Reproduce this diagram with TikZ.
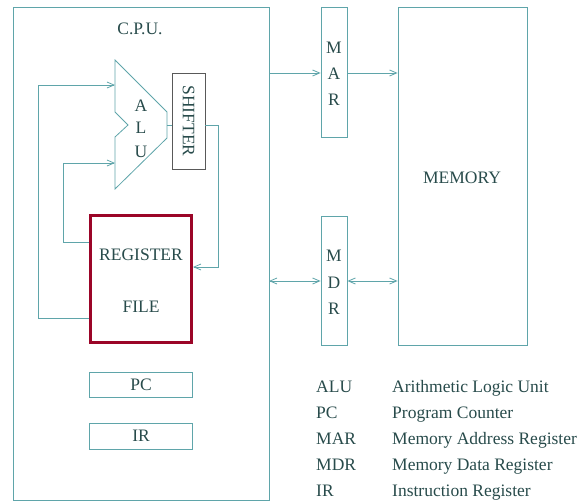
\documentclass[tikz,border=0pt]{standalone}
\usepackage{fontspec}
\setmainfont{Liberation Serif}
\usetikzlibrary{arrows.meta}
\definecolor{ln}{RGB}{95,165,170}
\definecolor{tx}{RGB}{40,75,75}
\definecolor{rf}{RGB}{155,5,40}
\begin{document}
\begin{tikzpicture}[x=1pt,y=-1pt,
  wire/.style={draw=ln,line width=0.8pt},
  arr/.style={wire,-{Straight Barb[length=7pt,width=6pt]}},
  darr/.style={wire,{Straight Barb[length=7pt,width=6pt]}-{Straight Barb[length=7pt,width=6pt]}},
  lbl/.style={text=tx,font=\fontsize{17.5}{20}\selectfont,inner sep=0pt},
  box/.style={draw=ln,line width=0.8pt}]
\useasboundingbox (0,0) rectangle (584,501);
% CPU
\draw[box] (13,7) rectangle (269,500);
\node[lbl] (cpu) at (140,29) {C.P.U.};
% ALU
\draw[box] (115,60) -- (167,112) -- (167,138) -- (115,189) -- (115,137) -- (128,125) -- (115,112) -- cycle;
\coordinate (aluin1) at (115,85);
\coordinate (aluin2) at (115,163);
\coordinate (aluout) at (167,125);
\node[lbl] (alua) at (141,106) {A};
\node[lbl] (alul) at (141,128) {L};
\node[lbl] (aluu) at (141,152) {U};
% shifter
\node[draw=gray!70!black,line width=0.7pt,minimum width=33pt,minimum height=96pt,inner sep=0pt] (sh) at (188.5,121) {};
\node[lbl,rotate=-90] (shtxt) at (188.5,121) {SHIFTER};
% register file
\node[draw=rf,line width=3pt,minimum width=101pt,minimum height=127pt,inner sep=0pt] (rf) at (141,279) {};
\node[lbl] (reg) at (141,255) {REGISTER};
\node[lbl] (file) at (141,307) {FILE};
% PC IR
\node[box,minimum width=103pt,minimum height=25pt,inner sep=0pt,lbl] (pc) at (141,384.5) {PC};
\node[box,minimum width=103pt,minimum height=26pt,inner sep=0pt,lbl] (ir) at (141,436) {IR};
% MAR MDR
\node[box,minimum width=26pt,minimum height=130pt,inner sep=0pt] (mar) at (334,72) {};
\node[lbl] at (334,48) {M};
\node[lbl] at (334,74) {A};
\node[lbl] at (334,100) {R};
\node[box,minimum width=26pt,minimum height=129pt,inner sep=0pt] (mdr) at (334,280.5) {};
\node[lbl] at (334,256) {M};
\node[lbl] at (334,283) {D};
\node[lbl] at (334,309) {R};
% memory
\node[box,minimum width=129pt,minimum height=338pt,inner sep=0pt] (mem) at (462.5,176) {};
\node[lbl] (memtxt) at (462,178) {MEMORY};
% connections
\coordinate (cpuR1) at (269,73);
\coordinate (cpuR2) at (269,281);
\draw[arr] (cpuR1) -- (mar.west |- cpuR1);
\draw[arr] (mar.east |- cpuR1) -- (mem.west |- cpuR1);
\draw[darr] (cpuR2) -- (mdr.west |- cpuR2);
\draw[darr] (mdr.east |- cpuR2) -- (mem.west |- cpuR2);
\draw[arr] (rf.west |- 0,318) -- (38,318) -- (38,85) -- (aluin1);
\draw[arr] (rf.west |- 0,242) -- (63,242) -- (63,163) -- (aluin2);
\draw[wire] (aluout) -- (sh.west |- aluout);
\draw[arr] (sh.east |- aluout) -- (218,125) -- (218,267) -- (rf.east |- 0,267);
% legend
\begin{scope}[every node/.style={lbl,anchor=base west}]
\node (l1a) at (316,392) {ALU}; \node (l1b) at (392,392) {Arithmetic Logic Unit};
\node (l2a) at (316,418) {PC}; \node (l2b) at (392,418) {Program Counter};
\node (l3a) at (316,444) {MAR}; \node (l3b) at (392,444) {Memory Address Register};
\node (l4a) at (316,470) {MDR}; \node (l4b) at (392,470) {Memory Data Register};
\node (l5a) at (316,496) {IR}; \node (l5b) at (392,496) {Instruction Register};
\end{scope}
\end{tikzpicture}
\end{document}
